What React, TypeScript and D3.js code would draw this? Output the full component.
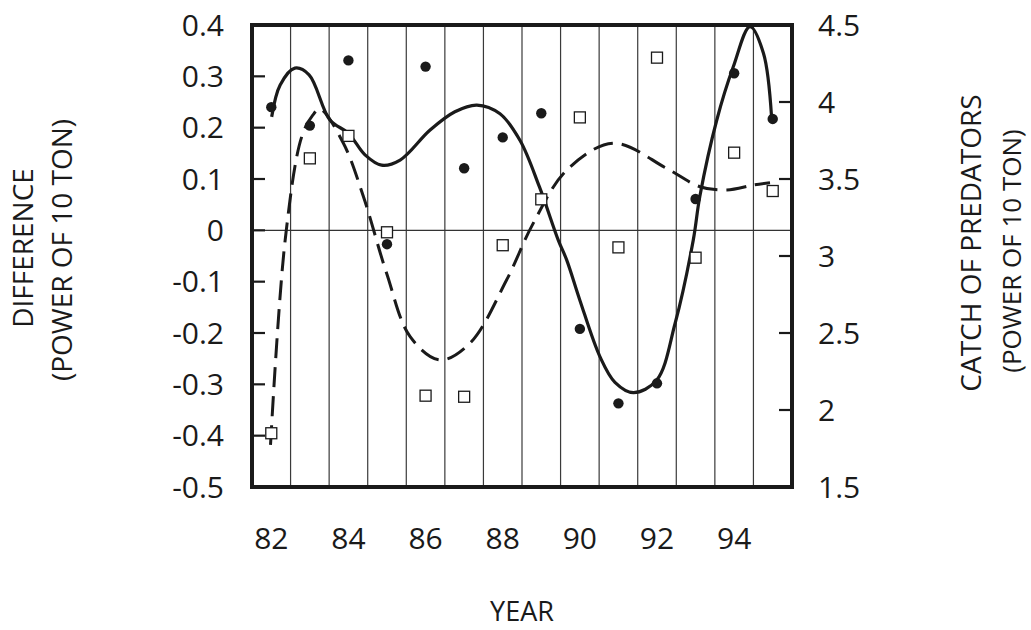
import React from 'react';
import * as d3 from 'd3';

// years on the x axis
const years = [82, 83, 84, 85, 86, 87, 88, 89, 90, 91, 92, 93, 94, 95];
const yearTicks = [82, 84, 86, 88, 90, 92, 94];

// filled dots, read against the left axis (difference)
const differenceDots = [0.24, 0.204, 0.331, -0.027, 0.319, 0.121, 0.181, 0.228, -0.192, -0.337, -0.298, 0.061, 0.306, 0.217];
// open squares, read against the right axis (catch of predators)
const catchSquares = [1.849, 3.634, 3.78, 3.154, 2.093, 2.086, 3.07, 3.368, 3.9, 3.056, 4.288, 2.989, 3.671, 3.422];

// solid fitted curve (left axis)
const solidYears = [82.01, 82.23, 82.61, 82.98, 83.52, 84.0, 84.43, 84.86, 85.34, 86.11, 86.76, 87.33, 87.93, 88.45, 88.95, 89.44, 89.66, 90.0, 90.52, 90.91, 91.39, 91.99, 92.47, 92.94, 93.11, 93.55, 93.98, 94.41, 94.76, 94.97];
const solidVals = [0.221, 0.283, 0.316, 0.303, 0.215, 0.189, 0.147, 0.127, 0.137, 0.195, 0.231, 0.244, 0.227, 0.175, 0.085, -0.019, -0.058, -0.136, -0.246, -0.296, -0.316, -0.292, -0.181, -0.019, 0.066, 0.215, 0.319, 0.397, 0.345, 0.221];

// dashed fitted curve (right axis)
const dashYears = [81.98, 82.36, 82.79, 83.08, 83.26, 83.87, 84.39, 84.99, 85.6, 86.37, 87.15, 88.1, 88.79, 89.66, 90.87, 92.25, 93.11, 93.81, 94.5, 94.93];
const dashVals = [1.773, 3.104, 3.775, 3.916, 3.955, 3.732, 3.385, 2.888, 2.476, 2.325, 2.433, 2.844, 3.212, 3.558, 3.732, 3.569, 3.45, 3.429, 3.461, 3.476];

const leftTicks = [0.4, 0.3, 0.2, 0.1, 0, -0.1, -0.2, -0.3, -0.4, -0.5];
const rightTicks = [4.5, 4, 3.5, 3, 2.5, 2, 1.5];

const W = 1031;
const H = 630;
const margin = { top: 25, right: 239, bottom: 143, left: 252 };
const FONT = '"Open Sans", "DejaVu Sans", sans-serif';
const INK = '#1a1a1a';

export default function App() {
  const innerW = W - margin.left - margin.right;
  const innerH = H - margin.top - margin.bottom;

  const x = d3.scaleLinear().domain([81.5, 95.5]).range([0, innerW]);
  const yL = d3.scaleLinear().domain([-0.5, 0.4]).range([innerH, 0]);
  const yR = d3.scaleLinear().domain([1.5, 4.5]).range([innerH, 0]);

  const solidLine = d3.line<number>()
    .x((_, i) => x(solidYears[i]))
    .y(d => yL(d))
    .curve(d3.curveCatmullRom.alpha(0.5));

  const dashLine = d3.line<number>()
    .x((_, i) => x(dashYears[i]))
    .y(d => yR(d))
    .curve(d3.curveCatmullRom.alpha(0.5));

  const fmtL = (v: number) => (v === 0 ? '0' : d3.format('.1f')(v).replace('−', '-'));

  return (
    <svg width={W} height={H} style={{ position: 'absolute', left: 0, top: 0, background: '#fff' }} fontFamily={FONT}>
      <g transform={`translate(${margin.left},${margin.top})`}>
        {/* vertical separators between years */}
        {years.slice(0, -1).map(yr => (
          <line key={yr} x1={x(yr + 0.5)} x2={x(yr + 0.5)} y1={0} y2={innerH} stroke="#3a3a3a" strokeWidth={1.2} />
        ))}
        {/* zero line */}
        <line x1={0} x2={innerW} y1={yL(0)} y2={yL(0)} stroke="#333" strokeWidth={1.3} />

        {/* ticks */}
        {leftTicks.map(t => (
          <line key={'lt' + t} x1={0} x2={13} y1={yL(t)} y2={yL(t)} stroke={INK} strokeWidth={2.2} />
        ))}
        {rightTicks.map(t => (
          <line key={'rt' + t} x1={innerW - 13} x2={innerW} y1={yR(t)} y2={yR(t)} stroke={INK} strokeWidth={2.2} />
        ))}

        {/* curves */}
        <path d={dashLine(dashVals) || ''} fill="none" stroke={INK} strokeWidth={3} strokeDasharray="20 9" />
        <path d={solidLine(solidVals) || ''} fill="none" stroke={INK} strokeWidth={3.2} />

        {/* points */}
        {catchSquares.map((v, i) => (
          <rect key={'s' + i} x={x(years[i]) - 5.5} y={yR(v) - 5.5} width={11} height={11} fill="#fff" stroke={INK} strokeWidth={1.3} />
        ))}
        {differenceDots.map((v, i) => (
          <circle key={'d' + i} cx={x(years[i])} cy={yL(v)} r={5.2} fill={INK} />
        ))}

        {/* frame */}
        <rect x={0} y={0} width={innerW} height={innerH} fill="none" stroke={INK} strokeWidth={4} />

        {/* tick labels */}
        {leftTicks.map(t => (
          <text key={'ll' + t} x={-28} y={yL(t)} dy="0.36em" textAnchor="end" fontSize={30} fill={INK}>{fmtL(t)}</text>
        ))}
        {rightTicks.map(t => (
          <text key={'rl' + t} x={innerW + 26} y={yR(t)} dy="0.36em" textAnchor="start" fontSize={30} fill={INK}>{d3.format('~g')(t)}</text>
        ))}
        {yearTicks.map(t => (
          <text key={'xl' + t} x={x(t)} y={innerH + 51} dy="0.36em" textAnchor="middle" fontSize={30} fill={INK}>{t}</text>
        ))}

        {/* axis titles */}
        <text x={innerW / 2} y={innerH + 134} textAnchor="middle" fontSize={27} fill={INK}>YEAR</text>
      </g>
      <g transform={`translate(23,248) rotate(-90)`}>
        <text dy="0.36em" textAnchor="middle" fontSize={28} fill={INK}>DIFFERENCE</text>
      </g>
      <g transform={`translate(62,250) rotate(-90)`}>
        <text dy="0.36em" textAnchor="middle" fontSize={28} fill={INK}>(POWER OF 10 TON)</text>
      </g>
      <g transform={`translate(971,243) rotate(-90)`}>
        <text dy="0.36em" textAnchor="middle" fontSize={28} fill={INK}>CATCH OF PREDATORS</text>
      </g>
      <g transform={`translate(1012,251) rotate(-90)`}>
        <text dy="0.36em" textAnchor="middle" fontSize={26} fill={INK}>(POWER OF 10 TON)</text>
      </g>
    </svg>
  );
}
